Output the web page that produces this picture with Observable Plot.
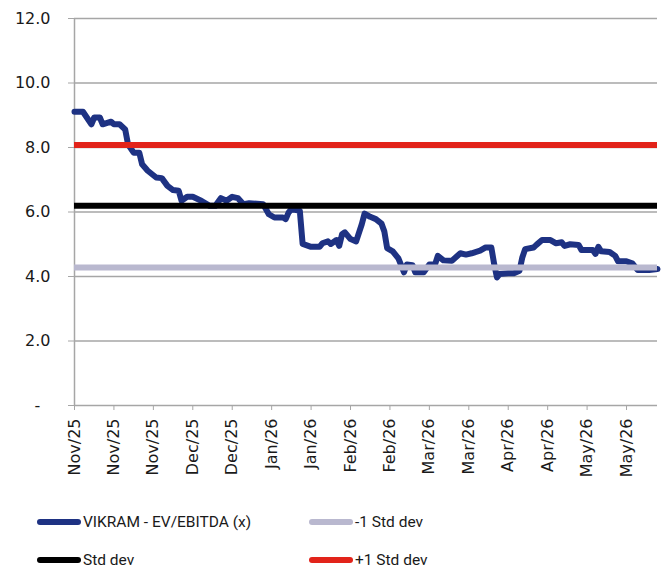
<!DOCTYPE html>
<html><head><meta charset="utf-8">
<script src="https://cdn.jsdelivr.net/npm/d3@7"></script>
<script src="https://cdn.jsdelivr.net/npm/@observablehq/plot@0.6"></script>
<style>
body{margin:0;background:#fff;}
#wrap{position:relative;width:664px;height:570px;overflow:hidden;}
.leg{position:absolute;height:20px;line-height:20px;font-family:Roboto,sans-serif;font-size:15.5px;color:#1a1a1a;display:flex;align-items:center;white-space:nowrap;}
.sw{width:44px;height:6px;border-radius:3px;margin-right:2px;}
</style></head><body><div id="wrap"></div>
<script>
const dates = ["2025-11-01","2025-11-04","2025-11-07","2025-11-08","2025-11-10","2025-11-11","2025-11-14","2025-11-15","2025-11-17","2025-11-19","2025-11-20","2025-11-22","2025-11-24","2025-11-25","2025-11-27","2025-11-30",
"2025-12-02","2025-12-04","2025-12-06","2025-12-08","2025-12-09","2025-12-11","2025-12-13","2025-12-16","2025-12-19","2025-12-21","2025-12-23","2025-12-25","2025-12-27","2025-12-29","2025-12-31",
"2026-01-02","2026-01-07","2026-01-09","2026-01-11","2026-01-14","2026-01-15","2026-01-16","2026-01-17","2026-01-20","2026-01-21","2026-01-24","2026-01-27","2026-01-28","2026-01-30","2026-01-31",
"2026-02-02","2026-02-03","2026-02-04","2026-02-05","2026-02-07","2026-02-09","2026-02-11","2026-02-12","2026-02-14","2026-02-16","2026-02-18","2026-02-19","2026-02-20","2026-02-22","2026-02-24","2026-02-26","2026-02-27",
"2026-03-01","2026-03-02","2026-03-05","2026-03-07","2026-03-09","2026-03-10","2026-03-12","2026-03-15","2026-03-18","2026-03-20","2026-03-22","2026-03-25","2026-03-27","2026-03-29","2026-03-30","2026-03-31",
"2026-04-01","2026-04-04","2026-04-06","2026-04-08","2026-04-09","2026-04-10","2026-04-13","2026-04-14","2026-04-16","2026-04-19","2026-04-21","2026-04-23","2026-04-24","2026-04-26","2026-04-29","2026-04-30",
"2026-05-04","2026-05-05","2026-05-06","2026-05-07","2026-05-10","2026-05-12","2026-05-13","2026-05-16","2026-05-18","2026-05-20","2026-05-24","2026-05-27"];
const evEbitda = [9.11,9.11,8.72,8.93,8.93,8.72,8.80,8.72,8.72,8.56,8.10,7.84,7.84,7.48,7.28,7.07,
7.05,6.81,6.68,6.66,6.35,6.47,6.47,6.35,6.19,6.19,6.43,6.35,6.47,6.43,6.24,
6.27,6.24,5.93,5.83,5.83,5.78,5.98,6.09,6.04,5.01,4.92,4.92,5.03,5.09,5.01,
5.13,4.95,5.31,5.37,5.16,5.09,5.62,5.95,5.85,5.78,5.64,5.40,4.88,4.78,4.56,4.13,4.37,
4.35,4.13,4.13,4.37,4.37,4.64,4.50,4.49,4.72,4.68,4.72,4.80,4.90,4.90,4.39,3.97,
4.08,4.10,4.10,4.18,4.59,4.85,4.90,4.98,5.13,5.13,5.03,5.06,4.95,5.00,4.98,4.82,
4.82,4.70,4.92,4.78,4.76,4.64,4.47,4.47,4.41,4.20,4.20,4.23];
const meanVal = 6.19;
const plusOne = 8.08;
const minusOne = 4.28;
const yTicks = [0,2,4,6,8,10,12];
const xTickDates = ["2025-11-01","2025-11-15","2025-11-29","2025-12-13","2025-12-27","2026-01-10","2026-01-24","2026-02-07","2026-02-21","2026-03-07","2026-03-21","2026-04-04","2026-04-18","2026-05-02","2026-05-16"];
const xStart = "2025-11-01", xEnd = "2026-05-27";
const legendItems = [
  {label:"VIKRAM - EV/EBITDA (x)", color:"#1e3283"},
  {label:"-1 Std dev", color:"#b9b8cf"},
  {label:"Std dev", color:"#000000"},
  {label:"+1 Std dev", color:"#e2231a"}
];

const data = dates.map((d,i)=>({date:new Date(d), v:evEbitda[i]}));
const grid = "#a6a6a6";
const chart = Plot.plot({
  width:664, height:490, marginLeft:74, marginRight:7, marginTop:18, marginBottom:85,
  style:{fontFamily:"'DejaVu Sans', sans-serif", fontSize:"16px", color:"#1a1a1a", background:"#fff"},
  x:{type:"utc", domain:[new Date(xStart), new Date(xEnd)]},
  y:{domain:[0,12]},
  marks:[
    Plot.gridY(yTicks,{stroke:grid, strokeOpacity:1, strokeWidth:1.5}),
    Plot.ruleX([new Date(xStart)],{stroke:grid, strokeWidth:1.5}),
    Plot.axisY(yTicks,{tickSize:6, tickPadding:18, stroke:grid, fill:"#1a1a1a", label:null,
      tickFormat:v => v===0 ? "-\u2007" : v.toFixed(1)}),
    Plot.axisX(xTickDates.map(d=>new Date(d)),{tickSize:5, tickPadding:8, tickRotate:-90, stroke:grid, fill:"#1a1a1a", label:null,
      tickFormat:d3.utcFormat("%b/%y")}),
    Plot.line(data,{x:"date", y:"v", stroke:legendItems[0].color, strokeWidth:6, strokeLinejoin:"round", strokeLinecap:"round"}),
    Plot.ruleY([minusOne],{stroke:legendItems[1].color, strokeWidth:6}),
    Plot.ruleY([meanVal],{stroke:legendItems[2].color, strokeWidth:6}),
    Plot.ruleY([plusOne],{stroke:legendItems[3].color, strokeWidth:6})
  ]
});
const wrap = document.getElementById("wrap");
wrap.appendChild(chart);
const pos = [[37,512],[309,512],[37,550],[309,550]];
legendItems.forEach((it,i)=>{
  const el = document.createElement("div");
  el.className="leg";
  el.style.left = pos[i][0]+"px"; el.style.top = pos[i][1]+"px";
  el.innerHTML = `<span class="sw" style="background:${it.color}"></span><span>${it.label}</span>`;
  wrap.appendChild(el);
});
</script></body></html>
